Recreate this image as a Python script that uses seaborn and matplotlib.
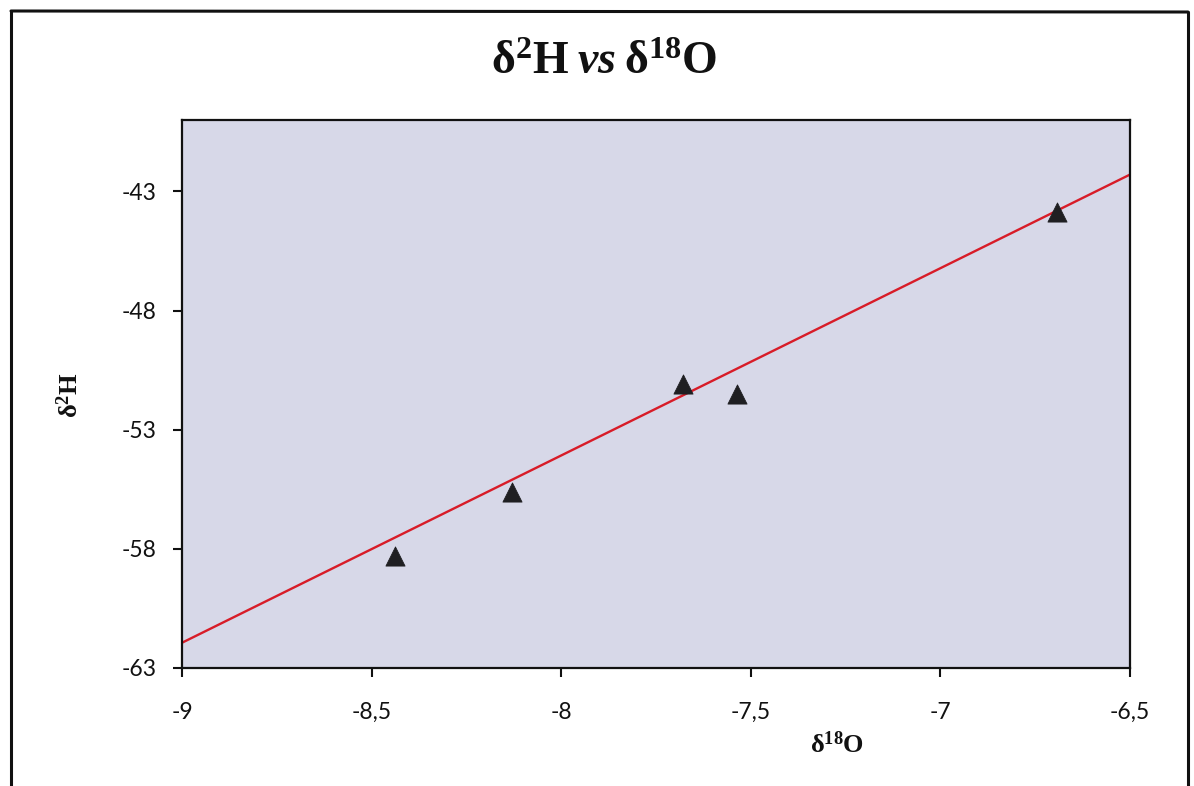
import matplotlib
matplotlib.use("Agg")
import matplotlib.pyplot as plt
from matplotlib.lines import Line2D
from matplotlib.ticker import FixedLocator, FuncFormatter
import numpy as np
import pandas as pd
import seaborn as sns

# Sample isotope values (per mil)
d18O = [-8.438, -8.130, -7.679, -7.537, -6.693]
d2H = [-58.28, -55.62, -51.10, -51.50, -43.88]

# Water line drawn across the plot: d2H = slope * d18O + intercept
line_slope = 7.86
line_intercept = 8.8

x_ticks = [-9, -8.5, -8, -7.5, -7, -6.5]
y_ticks = [-63, -58, -53, -48, -43]
x_limits = (-9, -6.5)
y_limits = (-63, -40)

sns.set_theme(style="white")
plt.rcParams["font.family"] = ["Lato", "DejaVu Sans"]
plt.rcParams["mathtext.fontset"] = "custom"
plt.rcParams["mathtext.rm"] = "Liberation Serif"
plt.rcParams["mathtext.bf"] = "Liberation Serif:bold"
plt.rcParams["mathtext.bfit"] = "Liberation Serif:italic:bold"
plt.rcParams["mathtext.it"] = "Liberation Serif:italic"

fig = plt.figure(figsize=(11.94, 7.86), dpi=100)
ax = fig.add_axes([182 / 1194, 1 - 668 / 786, 948 / 1194, 548 / 786])
ax.set_facecolor("#d7d8e8")

points = pd.DataFrame({"d18O": d18O, "d2H": d2H})
line_x = np.array(x_limits, dtype=float)
line = pd.DataFrame({"d18O": line_x, "d2H": line_slope * line_x + line_intercept})

sns.lineplot(data=line, x="d18O", y="d2H", ax=ax, color="#d81c28",
             linewidth=1.7, zorder=2)
sns.scatterplot(data=points, x="d18O", y="d2H", ax=ax, marker="^", s=190,
                color="#1f1f22", edgecolor="#1f1f22", linewidth=0.6, zorder=3)

ax.set_xlim(*x_limits)
ax.set_ylim(*y_limits)
ax.xaxis.set_major_locator(FixedLocator(x_ticks))
ax.yaxis.set_major_locator(FixedLocator(y_ticks))


def comma_fmt(v, pos):
    s = f"{v:g}"
    return s.replace(".", ",")


ax.xaxis.set_major_formatter(FuncFormatter(comma_fmt))
ax.yaxis.set_major_formatter(FuncFormatter(comma_fmt))
ax.tick_params(axis="x", direction="out", length=6.5, width=1.5,
               color="#111111", pad=18, labelsize=16.5, labelcolor="#111111")
ax.tick_params(axis="y", direction="out", length=6.5, width=1.5,
               color="#111111", pad=12, labelsize=16.5, labelcolor="#111111")
ax.tick_params(bottom=True, left=True)

for side in ax.spines.values():
    side.set_visible(True)
    side.set_color("#111111")
    side.set_linewidth(1.6)

ax.set_xlabel(r"$\mathbf{\delta^{18}O}$", fontsize=19, color="#111111")
ax.xaxis.set_label_coords(0.691, -0.1405)
ax.xaxis.label.set_verticalalignment("center")
ax.set_ylabel(r"$\mathbf{\delta^{2}H}$", fontsize=19, color="#111111")
ax.yaxis.set_label_coords(-0.118, 0.498)
ax.yaxis.label.set_verticalalignment("center")

fig.text(604 / 1194, 1 - 61 / 786,
         r"$\mathbf{\delta^{2}H}\;\mathbfit{vs}\;\mathbf{\delta^{18}O}$",
         fontsize=33, ha="center", va="center", color="#111111")

# Outer chart frame
frame_kw = dict(color="#111111", linewidth=2.2, transform=fig.transFigure)
fig.add_artist(Line2D([11 / 1194, 11 / 1194], [1 - 11 / 786, -0.01], **frame_kw))
fig.add_artist(Line2D([11 / 1194, 1188 / 1194], [1 - 11 / 786, 1 - 12 / 786], **frame_kw))
fig.add_artist(Line2D([1188 / 1194, 1188 / 1194], [1 - 12 / 786, -0.01], **frame_kw))

fig.savefig("out.png", dpi=100, facecolor="white")
